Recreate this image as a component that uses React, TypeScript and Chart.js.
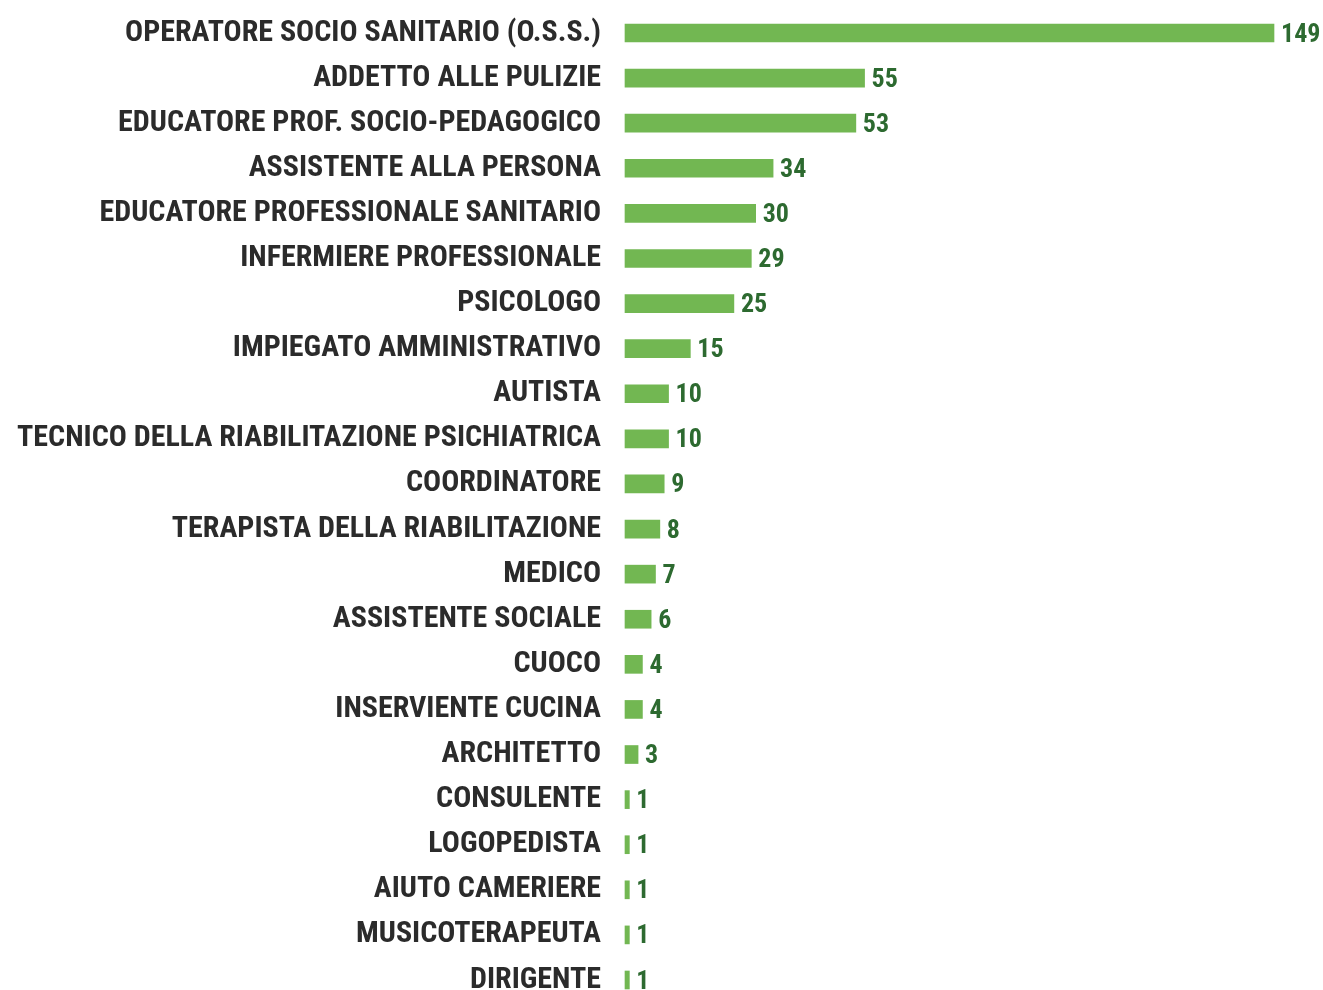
import React, { useEffect, useRef } from "react";
import { Chart, registerables } from "chart.js";

Chart.register(...registerables);

const categories: string[] = [
  "OPERATORE SOCIO SANITARIO (O.S.S.)",
  "ADDETTO ALLE PULIZIE",
  "EDUCATORE PROF. SOCIO-PEDAGOGICO",
  "ASSISTENTE ALLA PERSONA",
  "EDUCATORE PROFESSIONALE SANITARIO",
  "INFERMIERE PROFESSIONALE",
  "PSICOLOGO",
  "IMPIEGATO AMMINISTRATIVO",
  "AUTISTA",
  "TECNICO DELLA RIABILITAZIONE PSICHIATRICA",
  "COORDINATORE",
  "TERAPISTA DELLA RIABILITAZIONE",
  "MEDICO",
  "ASSISTENTE SOCIALE",
  "CUOCO",
  "INSERVIENTE CUCINA",
  "ARCHITETTO",
  "CONSULENTE",
  "LOGOPEDISTA",
  "AIUTO CAMERIERE",
  "MUSICOTERAPEUTA",
  "DIRIGENTE",
];

const values: number[] = [149, 55, 53, 34, 30, 29, 25, 15, 10, 10, 9, 8, 7, 6, 4, 4, 3, 1, 1, 1, 1, 1];

const BAR_COLOR = "#72b752";
const VALUE_COLOR = "#2d6a30";
const LABEL_COLOR = "#2b2b2b";
const FONT = "'Liberation Sans Narrow', 'Roboto Condensed', 'DejaVu Sans Condensed', sans-serif";

const valueLabels = {
  id: "valueLabels",
  afterDatasetsDraw(chart: any) {
    const ctx = chart.ctx;
    const meta = chart.getDatasetMeta(0);
    ctx.save();
    ctx.fillStyle = VALUE_COLOR;
    ctx.font = `bold 26px ${FONT}`;
    ctx.textAlign = "left";
    ctx.textBaseline = "middle";
    meta.data.forEach((bar: any, i: number) => {
      ctx.fillText(String(values[i]), bar.x + 7, bar.y + 2);
    });
    ctx.restore();
  },
};

export default function App() {
  const ref = useRef<HTMLCanvasElement | null>(null);
  useEffect(() => {
    if (!ref.current) return;
    const chart = new Chart(ref.current, {
      type: "bar",
      data: {
        labels: categories,
        datasets: [
          {
            data: values,
            backgroundColor: BAR_COLOR,
            barThickness: 18,
            clip: false as any,
          },
        ],
      },
      options: {
        indexAxis: "y",
        animation: false,
        responsive: true,
        maintainAspectRatio: false,
        layout: { padding: { top: 33, bottom: 10, right: 49, left: 0 } },
        plugins: { legend: { display: false }, tooltip: { enabled: false } },
        scales: {
          x: { display: false, min: 0, max: 149 },
          y: {
            offset: false,
            grid: { display: false, drawTicks: false },
            border: { display: false },
            afterFit: (scale: any) => {
              scale.width = 625;
              scale.paddingTop = 0;
              scale.paddingBottom = 0;
            },
            ticks: {
              padding: 24,
              color: LABEL_COLOR,
              font: { family: FONT, size: 30, weight: "bold" },
              autoSkip: false,
            },
          },
        },
      },
      plugins: [valueLabels],
    });
    return () => chart.destroy();
  }, []);
  return (
    <div style={{ position: "fixed", left: 0, top: 0, width: 1323, height: 990, background: "#fff" }}>
      <canvas ref={ref} />
    </div>
  );
}
